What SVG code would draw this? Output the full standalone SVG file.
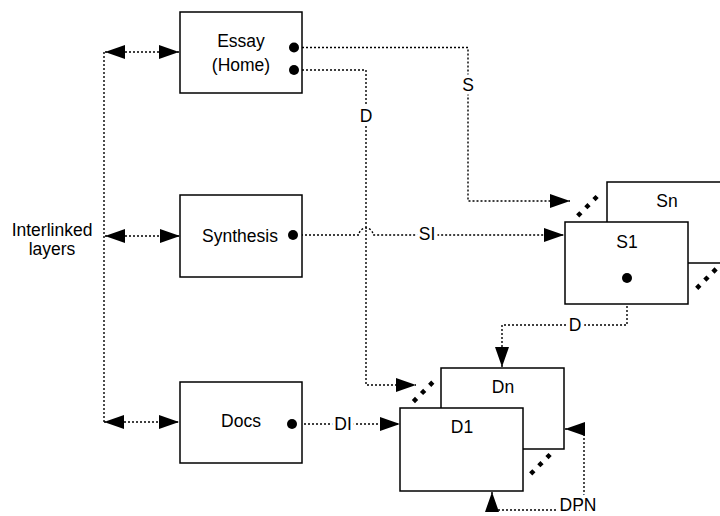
<svg xmlns="http://www.w3.org/2000/svg" width="720" height="516" viewBox="0 0 720 516">
<style>
.box{fill:#fff;stroke:#000;stroke-width:1.5}
.t{font-family:"Liberation Sans",Arial,sans-serif;font-size:17.5px;fill:#000;text-anchor:middle}
.lbl{font-family:"Liberation Sans",Arial,sans-serif;font-size:17.5px;fill:#000;text-anchor:middle;stroke:#fff;stroke-width:7;paint-order:stroke;stroke-linejoin:round}
.c{fill:none;stroke:#000;stroke-width:1.4;stroke-dasharray:2 2}
.dia{fill:none;stroke:#000;stroke-width:4.5;stroke-dasharray:4.5 7}
.dot{fill:#000}
</style>
<defs>
<marker id="ah" markerUnits="userSpaceOnUse" markerWidth="20" markerHeight="14" refX="20" refY="7" orient="auto-start-reverse" viewBox="0 0 20 14">
<path d="M0,0 L20,7 L0,14 z" fill="#000"/>
</marker>
</defs>
<g id="interlinked-label">
<text class="t" x="52" y="236">Interlinked</text>
<text class="t" x="52" y="255">layers</text>
</g>
<g id="connectors">
<path class="c" d="M104,52 V422"/>
<path class="c" d="M105,52 H179" marker-start="url(#ah)" marker-end="url(#ah)"/>
<path class="c" d="M105,236 H180" marker-start="url(#ah)" marker-end="url(#ah)"/>
<path class="c" d="M104,422 H179" marker-start="url(#ah)" marker-end="url(#ah)"/>
<path class="c" d="M294,47.5 H468 V201 H570" marker-end="url(#ah)"/>
<path class="c" d="M294,70 H366 V385 H416" marker-end="url(#ah)"/>
<path class="c" d="M293,235 H359 A7,7 0 0 1 373,235 H564" marker-end="url(#ah)"/>
<path class="c" d="M627,278 V325 H502 V367" marker-end="url(#ah)"/>
<path class="c" d="M292,424 H400" marker-end="url(#ah)"/>
<path class="c" d="M492,492 V510 H584 V429 H565" marker-start="url(#ah)" marker-end="url(#ah)"/>
<text class="lbl" x="468" y="91">S</text>
<text class="lbl" x="366" y="122">D</text>
<text class="lbl" x="427" y="240">SI</text>
<text class="lbl" x="575" y="331">D</text>
<text class="lbl" x="343" y="430">DI</text>
<text class="lbl" x="578" y="511">DPN</text>
</g>
<g id="essay">
<rect class="box" x="180" y="12" width="122" height="81"/>
<text class="t" x="241" y="47">Essay</text>
<text class="t" x="241" y="71">(Home)</text>
<circle class="dot" cx="294" cy="47.5" r="5"/>
<circle class="dot" cx="294" cy="70" r="5"/>
</g>
<g id="synthesis">
<rect class="box" x="180" y="195" width="122" height="82"/>
<text class="t" x="240" y="242">Synthesis</text>
<circle class="dot" cx="293" cy="235" r="5"/>
</g>
<g id="docs">
<rect class="box" x="180" y="382" width="122" height="81"/>
<text class="t" x="241" y="427">Docs</text>
<circle class="dot" cx="292" cy="424" r="5"/>
</g>
<g id="sn">
<rect class="box" x="607" y="182" width="140" height="81"/>
<text class="t" x="667" y="207">Sn</text>
</g>
<g id="s1">
<rect class="box" x="565" y="222" width="123" height="82"/>
<text class="t" x="627" y="248">S1</text>
<circle class="dot" cx="627" cy="278" r="5"/>
<line class="dia" x1="577.7" y1="215.9" x2="597.1" y2="196.5"/>
<line class="dia" x1="696.7" y1="288.3" x2="716.1" y2="268.9"/>
</g>
<g id="dn">
<rect class="box" x="441" y="368" width="123" height="81"/>
<text class="t" x="503" y="393">Dn</text>
</g>
<g id="d1">
<rect class="box" x="400" y="408" width="123" height="83"/>
<text class="t" x="462" y="433">D1</text>
<line class="dia" x1="413.4" y1="401.6" x2="432.8" y2="382.2"/>
<line class="dia" x1="530.7" y1="473.9" x2="550.1" y2="454.5"/>
</g>
</svg>
